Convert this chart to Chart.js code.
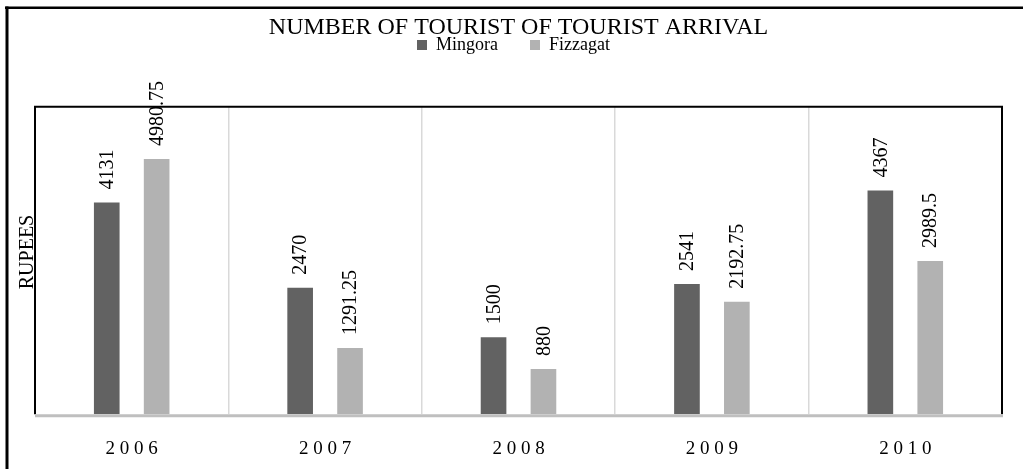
<!DOCTYPE html>
<html>
<head>
<meta charset="utf-8">
<script src="https://cdn.jsdelivr.net/npm/chart.js@4.4.1/dist/chart.umd.min.js"></script>
<style>
  html, body { margin: 0; padding: 0; background: #fff; }
</style>
</head>
<body>
<canvas id="myChart" width="1023" height="469"></canvas>
<script>
// data
const years = ["2006", "2007", "2008", "2009", "2010"];
const mingora = [4131, 2470, 1500, 2541, 4367];
const fizzagat = [4980.75, 1291.25, 880, 2192.75, 2989.5];
const seriesNames = ["Mingora", "Fizzagat"];
const yMax = 6000;

const serif = "'Liberation Serif', 'Times New Roman', serif";

// extra drawing: value labels, plot frame, outer page border
const decor = {
    id: "decor",
    afterLayout(chart) {
        // legend sits right under the title in the original
        const lg = chart.legend;
        const h = lg.height;
        lg.top = 4;
        lg.bottom = lg.top + h;
        lg.left -= 5;
        lg.right -= 5;
    },
    afterDatasetsDraw(chart) {
        const ctx = chart.ctx;
        const a = chart.chartArea;
        ctx.save();

        //value labels, rotated
        ctx.font = "20px " + serif;
        ctx.fillStyle = "#000";
        ctx.textAlign = "left";
        ctx.textBaseline = "middle";
        chart.data.datasets.forEach((ds, i) => {
            chart.getDatasetMeta(i).data.forEach((bar, j) => {
                ctx.save();
                ctx.translate(bar.x + 1, bar.y - 13);
                ctx.rotate(-Math.PI / 2);
                ctx.fillText(String(ds.data[j]), 0, 0);
                ctx.restore();
            });
        });

        //plot frame
        ctx.strokeStyle = "#000";
        ctx.lineWidth = 2;
        ctx.beginPath();
        ctx.moveTo(a.left, a.bottom);
        ctx.lineTo(a.left, a.top);
        ctx.lineTo(a.right, a.top);
        ctx.lineTo(a.right, a.bottom);
        ctx.stroke();
        ctx.strokeStyle = "#bfbfbf";
        ctx.lineWidth = 3;
        ctx.beginPath();
        ctx.moveTo(a.left, a.bottom + 1.5);
        ctx.lineTo(a.right + 1, a.bottom + 1.5);
        ctx.stroke();

        //y title
        ctx.save();
        ctx.font = "20px " + serif;
        ctx.textAlign = "center";
        ctx.textBaseline = "alphabetic";
        ctx.fillStyle = "#000";
        ctx.translate(33, 252);
        ctx.rotate(-Math.PI / 2);
        ctx.fillText("RUPEES", 0, 0);
        ctx.restore();

        //outer border
        ctx.fillStyle = "#000";
        ctx.fillRect(5, 6.5, 1018, 2.5);
        ctx.fillRect(5.5, 6.5, 3, 463);

        ctx.restore();
    },
};

const ctx = document.getElementById("myChart");

const data = {
    labels: years,
    datasets: [
        {
            label: seriesNames[0],
            data: mingora,
            backgroundColor: "#626262",
            borderWidth: 0,
            categoryPercentage: 0.516,
            barPercentage: 0.514,
        },
        {
            label: seriesNames[1],
            data: fizzagat,
            backgroundColor: "#b2b2b2",
            borderWidth: 0,
            categoryPercentage: 0.516,
            barPercentage: 0.514,
        },
    ],
};

const options = {
    responsive: false,
    animation: false,
    layout: {
        padding: { top: 13, left: 35, right: 21, bottom: 9 },
    },
    plugins: {
        title: {
            display: true,
            text: "NUMBER OF TOURIST OF TOURIST ARRIVAL",
            color: "#000",
            font: { family: serif, size: 24, weight: "normal" },
            padding: { top: 0, bottom: 5 },
        },
        legend: {
            display: true,
            position: "top",
            labels: {
                color: "#000",
                font: { family: serif, size: 18 },
                boxWidth: 10,
                boxHeight: 10,
                padding: 32,
            },
        },
        tooltip: { enabled: false },
    },
    scales: {
        x: {
            grid: {
                color: "#d9d9d9",
                lineWidth: 1.5,
                drawTicks: true,
                tickLength: 23,
                tickColor: "rgba(0,0,0,0)",
            },
            border: { display: false },
            ticks: {
                color: "#000",
                font: { family: serif, size: 19 },
                padding: 0,
                // the original spreads the year digits out
                callback: function (value) {
                    return this.getLabelForValue(value).split("").join(" ");
                },
            },
        },
        y: {
            display: false,
            min: 0,
            max: yMax,
        },
    },
};

new Chart(ctx, {
    type: "bar",
    data: data,
    options: options,
    plugins: [decor],
});
</script>
</body>
</html>
